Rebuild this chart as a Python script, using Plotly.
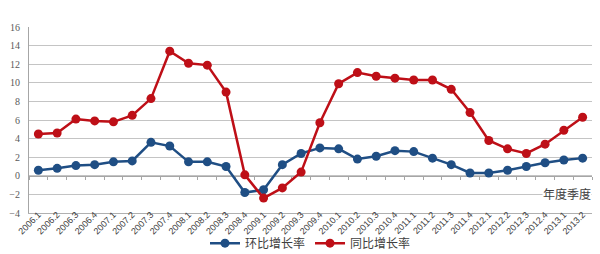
import plotly.graph_objects as go

quarters = ["2006.1","2006.2","2006.3","2006.4","2007.1","2007.2","2007.3","2007.4",
            "2008.1","2008.2","2008.3","2008.4","2009.1","2009.2","2009.3","2009.4",
            "2010.1","2010.2","2010.3","2010.4","2011.1","2011.2","2011.3","2011.4",
            "2012.1","2012.2","2012.3","2012.4","2013.1","2013.2"]
huanbi = [0.6, 0.8, 1.1, 1.2, 1.5, 1.6, 3.6, 3.2,
          1.5, 1.5, 1.0, -1.8, -1.5, 1.2, 2.4, 3.0,
          2.9, 1.8, 2.1, 2.7, 2.6, 1.9, 1.2, 0.3,
          0.3, 0.6, 1.0, 1.4, 1.7, 1.9]
tongbi = [4.5, 4.6, 6.1, 5.9, 5.8, 6.5, 8.3, 13.4,
          12.1, 11.9, 9.0, 0.1, -2.4, -1.3, 0.4, 5.7,
          9.9, 11.1, 10.7, 10.5, 10.3, 10.3, 9.3, 6.8,
          3.8, 2.9, 2.4, 3.4, 4.9, 6.3]
y_ticks = list(range(-4, 17, 2))
names = ["环比增长率", "同比增长率"]
x_title = "年度季度"

BLUE = "#1F4E84"
RED = "#BE0F17"
GRID = "#C4C4C4"
TXT = "#595959"

fig = go.Figure()
fig.add_trace(go.Scatter(x=quarters, y=huanbi, name=names[0], mode="lines+markers",
                         line=dict(color=BLUE, width=2.5),
                         marker=dict(color=BLUE, size=9), xaxis="x", yaxis="y"))
fig.add_trace(go.Scatter(x=quarters, y=tongbi, name=names[1], mode="lines+markers",
                         line=dict(color=RED, width=2.5),
                         marker=dict(color=RED, size=9), xaxis="x2", yaxis="y"))

fig.update_layout(
    width=600, height=254,
    margin=dict(l=29, r=8, t=27, b=41, autoexpand=False),
    paper_bgcolor="white", plot_bgcolor="white",
    font=dict(family="Noto Sans CJK SC, Liberation Sans", color=TXT),
    showlegend=True,
    legend=dict(orientation="h", x=0.5, xanchor="center", y=-0.162, yanchor="middle",
                font=dict(size=12, color="#404040"), itemwidth=30,
                bgcolor="rgba(0,0,0,0)"),
    xaxis=dict(type="category", range=[-0.5, 29.5], anchor="free", position=0.2,
               showline=True, linecolor="#A6A6A6", linewidth=1,
               ticks="outside", tickson="boundaries", ticklen=3, tickcolor="#A6A6A6",
               showticklabels=False, showgrid=False, zeroline=False, layer="below traces",
               automargin=False),
    xaxis2=dict(type="category", range=[-0.5, 29.5], overlaying="x", anchor="y", side="bottom",
                showline=True, linecolor="#B0B0B0", linewidth=1, ticks="",
                tickangle=-45, tickfont=dict(family="Liberation Sans", size=9, color="#404040"),
                ticklabelstandoff=-8,
                showgrid=False, zeroline=False, automargin=False),
    yaxis=dict(range=[-4, 16], tickvals=y_ticks, showgrid=True, gridcolor=GRID, gridwidth=1,
               zeroline=False, showline=True, linecolor="#A6A6A6", automargin=False,
               tickfont=dict(family="Liberation Serif", size=10, color=TXT),
               ticks="", ticklabelstandoff=6),
)
fig.add_annotation(text=x_title, xref="paper", yref="y", x=1.0, y=-1.85,
                   xanchor="right", yanchor="middle", showarrow=False,
                   font=dict(size=12, color="#404040"), bgcolor="white", borderpad=0)

fig.write_html("out.html")
